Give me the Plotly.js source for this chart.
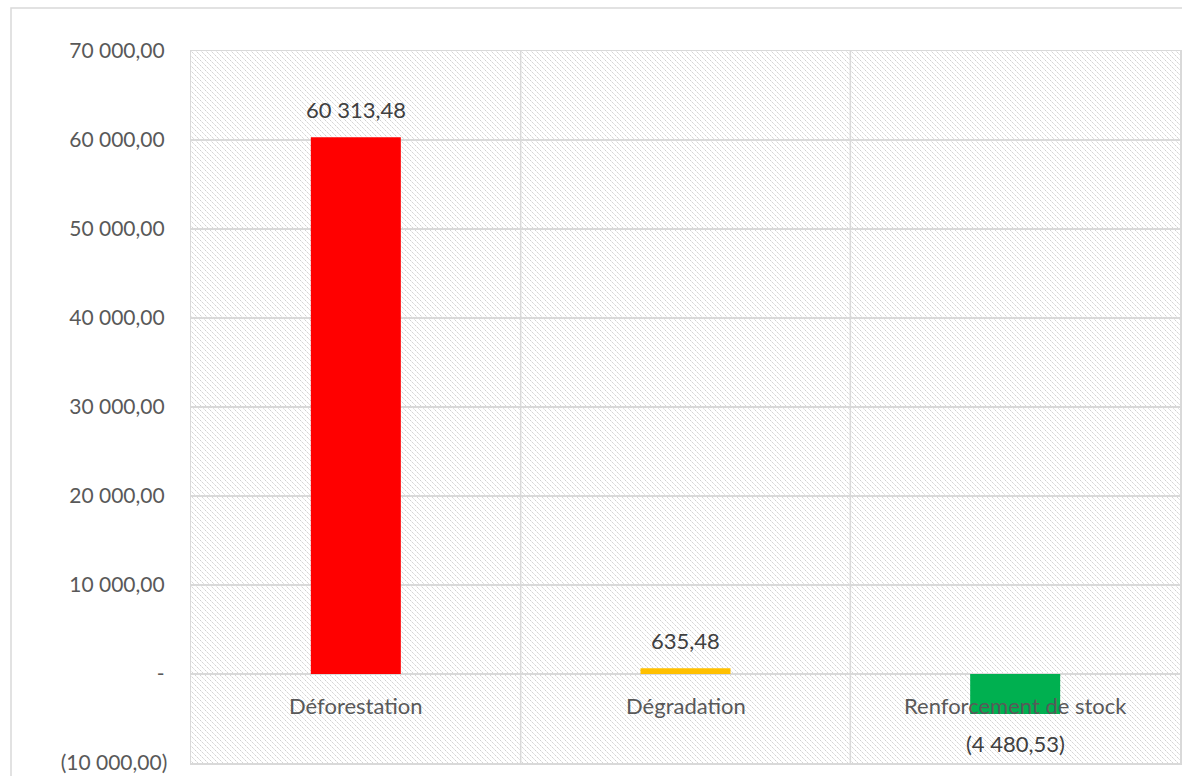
<!DOCTYPE html>
<html>
<head>
<meta charset="utf-8">
<script src="https://cdn.plot.ly/plotly-3.0.1.min.js"></script>
<style>
html,body{margin:0;padding:0;background:#fff;}
#chart{width:1182px;height:776px;}
</style>
</head>
<body>
<div id="chart"></div>
<script>
const categories = ["Déforestation", "Dégradation", "Renforcement de stock"];
const values = [60313.48, 635.48, -4480.53];
const barColors = ["#FF0000", "#FFC000", "#00B050"];
const tickValues = [70000, 60000, 50000, 40000, 30000, 20000, 10000, 0, -10000];

function fmt(v) {
  if (v === 0) return "-";
  const parts = Math.abs(v).toFixed(2).split(".");
  const intPart = parts[0].replace(/\B(?=(\d{3})+(?!\d))/g, " ");
  const s = intPart + "," + parts[1];
  return v < 0 ? "(" + s + ")" : s;
}

const tickText = tickValues.map(v => v < 0 ? fmt(v) : fmt(v) + "\u2009");

const W = 989, H = 712;
const svg = `<svg xmlns="http://www.w3.org/2000/svg" width="${W}" height="${H}"><defs><pattern id="p" width="5" height="5" patternUnits="userSpaceOnUse"><path d="M-1,-1 L6,6" stroke="#cdcdcd" stroke-width="1" stroke-dasharray="1.6,0.8"/></pattern></defs><rect width="${W}" height="${H}" fill="url(#p)"/></svg>`;
const svgUri = "data:image/svg+xml;charset=utf-8," + encodeURIComponent(svg);

const gray = "#d9d9d9";
const font = "Lato, 'Open Sans', sans-serif";

const annotations = [];
categories.forEach((c, i) => {
  const v = values[i];
  annotations.push({
    x: c, y: v, xref: "x", yref: "y",
    text: fmt(v), showarrow: false,
    yanchor: v >= 0 ? "bottom" : "top",
    yshift: v >= 0 ? 12 : -14,
    font: {family: font, size: 22, color: "#404040"}
  });
  annotations.push({
    x: c, y: 0, xref: "x", yref: "y",
    text: c, showarrow: false,
    yanchor: "middle", yshift: -31,
    font: {family: font, size: 22, color: "#595959"}
  });
});

const trace = {
  type: "bar",
  x: categories,
  y: values,
  width: 0.273,
  marker: {color: barColors, line: {width: 0}},
  hoverinfo: "x+y"
};

const layout = {
  width: 1182, height: 776,
  margin: {l: 191, r: 2, t: 51, b: 13},
  paper_bgcolor: "#ffffff",
  plot_bgcolor: "rgba(0,0,0,0)",
  showlegend: false,
  font: {family: font, size: 21, color: "#595959"},
  xaxis: {
    type: "category",
    range: [-0.5, 2.5],
    showticklabels: false,
    showgrid: false,
    zeroline: false,
    showline: true, mirror: true, linecolor: gray, linewidth: 1.5,
    ticks: ""
  },
  yaxis: {
    range: [-10000, 70000],
    tickvals: tickValues,
    ticktext: tickText,
    tickfont: {family: font, size: 21, color: "#595959"},
    ticks: "",
    ticklabelstandoff: 18,
    showgrid: true, gridcolor: gray, gridwidth: 1.5,
    zeroline: true, zerolinecolor: gray, zerolinewidth: 1.5,
    showline: true, mirror: true, linecolor: gray, linewidth: 1.5
  },
  images: [{
    source: svgUri, xref: "paper", yref: "paper",
    x: 0, y: 1, sizex: 1, sizey: 1,
    xanchor: "left", yanchor: "top",
    sizing: "stretch", layer: "below"
  }],
  shapes: [
    {type: "line", xref: "x", yref: "paper", x0: 0.5, x1: 0.5, y0: 0, y1: 1,
     line: {color: gray, width: 1.5}, layer: "below"},
    {type: "line", xref: "x", yref: "paper", x0: 1.5, x1: 1.5, y0: 0, y1: 1,
     line: {color: gray, width: 1.5}, layer: "below"},
    {type: "rect", xref: "paper", yref: "paper",
     x0: -180/989, x1: 1.05, y0: -0.06, y1: 1 + 43/712,
     line: {color: gray, width: 1.5}, fillcolor: "rgba(0,0,0,0)", layer: "below"}
  ],
  annotations: annotations
};

Plotly.newPlot("chart", [trace], layout, {displayModeBar: false, staticPlot: true});
</script>
</body>
</html>
